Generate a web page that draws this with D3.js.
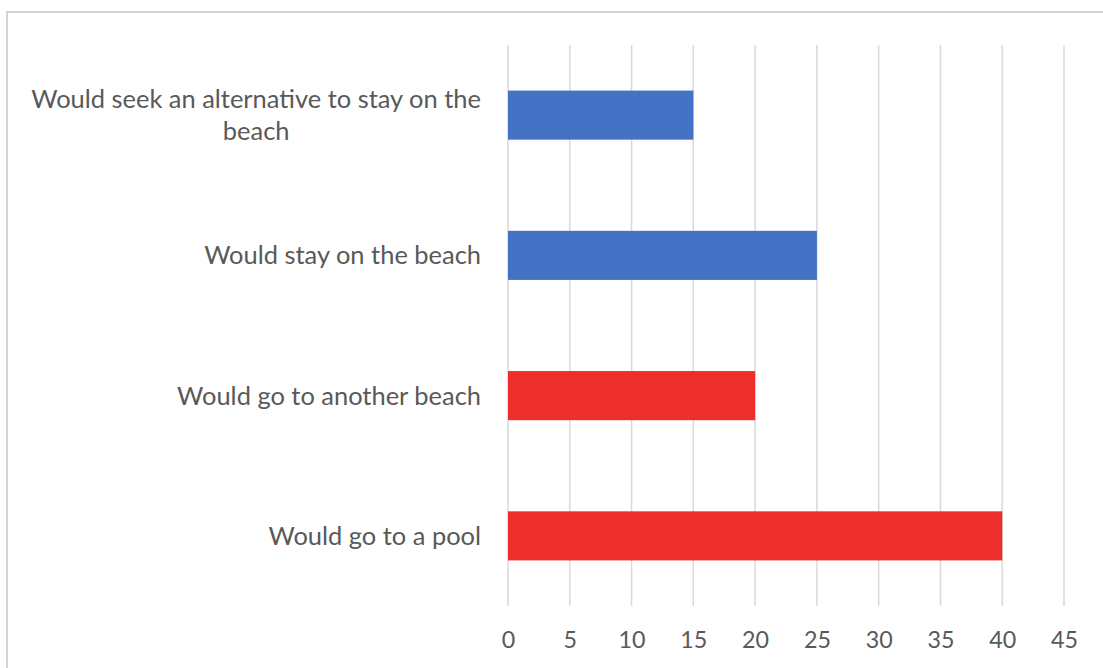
<!DOCTYPE html>
<html><head><meta charset="utf-8">
<script src="https://cdn.jsdelivr.net/npm/d3@7"></script>
<style>html,body{margin:0;padding:0;background:#fff;}</style>
</head><body>
<script>
const categories = [
  ["Would seek an alternative to stay on the", "beach"],
  ["Would stay on the beach"],
  ["Would go to another beach"],
  ["Would go to a pool"]
];
const values = [15, 25, 20, 40];
const barColors = ["#4472C4", "#4472C4", "#EE2E2A", "#EE2E2A"];
const tickValues = [0, 5, 10, 15, 20, 25, 30, 35, 40, 45];

const W = 1103, H = 668;
const svg = d3.select("body").append("svg").attr("width", W).attr("height", H);
svg.append("rect").attr("x", 7).attr("y", 12).attr("width", W + 10).attr("height", H + 10)
  .attr("fill", "#fff").attr("stroke", "#d4d4d4").attr("stroke-width", 2);

const font = "Lato, 'Open Sans', sans-serif";
function fitSize(txt, targetW) {
  const t = svg.append("text").attr("font-family", font).attr("font-size", 20).text(txt);
  const w = t.node().getComputedTextLength();
  t.remove();
  return 20 * targetW / w;
}
const labelSize = fitSize("Would stay on the beach", 277);
const tickSize = fitSize("45", 27);

const x = d3.scaleLinear().domain([0, 45]).range([508, 1064]);
const y = d3.scaleBand().domain(d3.range(categories.length)).range([45, 606]).paddingInner(0.65).paddingOuter(0.325);

const grid = svg.append("g");
grid.selectAll("line").data(tickValues).join("line")
  .attr("x1", d => x(d)).attr("x2", d => x(d))
  .attr("y1", 45).attr("y2", 606)
  .attr("stroke", "#d9d9d9").attr("stroke-width", 1.5);

svg.append("g").selectAll("rect").data(values).join("rect")
  .attr("x", x(0)).attr("y", (d, i) => y(i))
  .attr("width", d => x(d) - x(0)).attr("height", y.bandwidth())
  .attr("fill", (d, i) => barColors[i]);

const xAxis = svg.append("g").attr("transform", "translate(0,606)")
  .call(d3.axisBottom(x).tickValues(tickValues).tickSize(0).tickPadding(0));
xAxis.select(".domain").remove();
xAxis.selectAll("text").attr("y", 34).attr("dy", "0.35em")
  .attr("font-family", font).attr("font-size", tickSize).attr("fill", "#595959");

const labels = svg.append("g");
categories.forEach((lines, i) => {
  const cy = y(i) + y.bandwidth() / 2;
  const lh = 32;
  const t = labels.append("text").attr("font-family", font).attr("font-size", labelSize)
    .attr("fill", "#595959").attr("text-anchor", "middle");
  lines.forEach((ln, j) => {
    t.append("tspan").attr("x", 0).attr("y", cy + (j - (lines.length - 1) / 2) * lh).attr("dy", "0.35em").text(ln);
  });
  const bb = t.node().getBBox();
  t.attr("transform", `translate(${481 - (bb.x + bb.width)},0)`);
});
</script>
</body></html>
